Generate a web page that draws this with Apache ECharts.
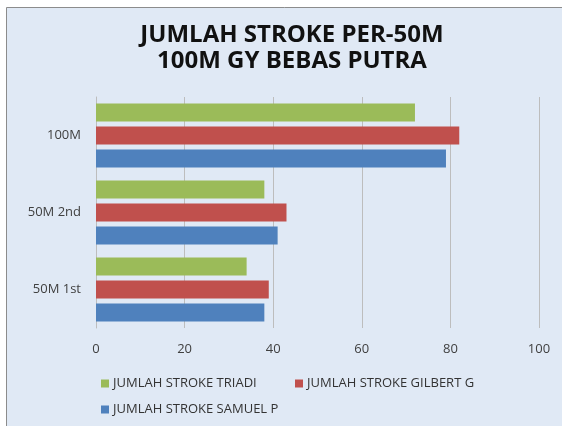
<!DOCTYPE html>
<html><head><meta charset="utf-8">
<script src="https://cdn.jsdelivr.net/npm/echarts@6/dist/echarts.min.js"></script>
<style>html,body{margin:0;padding:0;background:#fff}#c{width:562px;height:426px}</style>
</head><body><div id="c"></div>
<script>
const categories = ['50M 1st', '50M 2nd', '100M'];
const seriesNames = ['JUMLAH STROKE TRIADI', 'JUMLAH STROKE GILBERT G', 'JUMLAH STROKE SAMUEL P'];
const triadi = [34, 38, 72];
const gilbert = [39, 43, 82];
const samuel = [38, 41, 79];
const xTicks = [0, 20, 40, 60, 80, 100];

const colors = ['#9bbb59', '#c0504d', '#4f81bd'];
const font = '"Open Sans", "Liberation Sans", sans-serif';
const legendBase = {
  itemWidth: 8, itemHeight: 8, icon: 'rect', padding: 0, itemGap: 0,
  textStyle: {fontFamily: font, fontSize: 13, color: '#333', padding: [0, 0, 0, -1]}
};
const chart = echarts.init(document.getElementById('c'));
chart.setOption({
  backgroundColor: '#ffffff',
  animation: false,
  graphic: [{
    type: 'rect', z: 0, silent: true,
    shape: {x: 6.5, y: 7.5, width: 570, height: 430},
    style: {fill: '#e0e9f5', stroke: '#8c8c8c', lineWidth: 1}
  }],
  title: {
    text: 'JUMLAH STROKE PER-50M\n100M GY BEBAS PUTRA',
    left: 287, textAlign: 'center', top: 17,
    textStyle: {fontFamily: font, fontWeight: 'bold', fontSize: 24, color: '#111', lineHeight: 26}
  },
  legend: [
    Object.assign({data: [seriesNames[0]], left: 101, top: 377}, legendBase),
    Object.assign({data: [seriesNames[1]], left: 295, top: 377}, legendBase),
    Object.assign({data: [seriesNames[2]], left: 101, top: 403}, legendBase)
  ],
  grid: {left: 96, right: 23, top: 97, bottom: 98, show: true, backgroundColor: '#ffffff', borderWidth: 0},
  xAxis: {
    type: 'value', min: xTicks[0], max: xTicks[xTicks.length - 1], interval: 20,
    axisLine: {show: false}, axisTick: {show: false},
    splitLine: {show: true, lineStyle: {color: '#bdbdbd', width: 1}},
    axisLabel: {fontFamily: font, fontSize: 13, color: '#404040', margin: 15}
  },
  yAxis: {
    type: 'category', data: categories,
    axisLine: {show: true, lineStyle: {color: '#bdbdbd'}}, axisTick: {show: false},
    axisLabel: {fontFamily: font, fontSize: 13, color: '#404040', margin: 15}
  },
  series: [
    {name: seriesNames[0], type: 'bar', data: triadi, itemStyle: {color: colors[0]}, barWidth: 18, barGap: '28%'},
    {name: seriesNames[1], type: 'bar', data: gilbert, itemStyle: {color: colors[1]}, barWidth: 18, barGap: '28%'},
    {name: seriesNames[2], type: 'bar', data: samuel, itemStyle: {color: colors[2]}, barWidth: 18, barGap: '28%'}
  ]
});
</script></body></html>
